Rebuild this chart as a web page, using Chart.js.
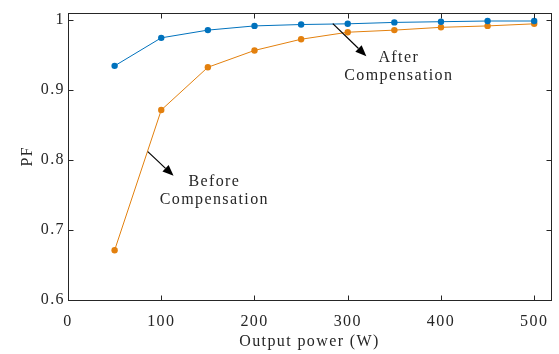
<!DOCTYPE html>
<html><head><meta charset="utf-8">
<script src="https://cdn.jsdelivr.net/npm/chart.js@4.4.1/dist/chart.umd.min.js"></script>
<style>html,body{margin:0;padding:0;background:#fff;}#wrap{width:559px;height:354px;}</style>
</head><body><div id="wrap"><canvas id="c" width="559" height="354"></canvas></div>
<script>
// ---- data ----
const outputPower = [50, 100, 150, 200, 250, 300, 350, 400, 450, 500];
const pfAfter  = [0.934, 0.974, 0.985, 0.991, 0.993, 0.994, 0.996, 0.997, 0.998, 0.998];
const pfBefore = [0.671, 0.871, 0.932, 0.956, 0.972, 0.982, 0.985, 0.989, 0.991, 0.994];
const xTicks = [0, 100, 200, 300, 400, 500];
const yTicks = [0.6, 0.7, 0.8, 0.9, 1];
const seriesNames = ['After Compensation', 'Before Compensation'];
const xTitle = 'Output power (W)';
const yTitle = 'PF';
const afterLabel = ['After', 'Compensation'];
const beforeLabel = ['Before', 'Compensation'];

const FONT = "'Liberation Serif', 'Times New Roman', serif";
const AX = '#262626';
const BLUE = '#0072BD';
const ORANGE = '#E3800E';

const axisPlugin = {
  id: 'matlabAxes',
  beforeDraw(chart) {
    chart.ctx.letterSpacing = '1.4px';
  },
  afterDraw(chart) {
    const ctx = chart.ctx, a = chart.chartArea;
    const xs = chart.scales.x, ys = chart.scales.y;
    ctx.save();
    ctx.strokeStyle = AX; ctx.lineWidth = 1;
    const L = Math.round(a.left) + 0.5, R = Math.round(a.right) + 0.5;
    const T = Math.round(a.top) + 0.5, B = Math.round(a.bottom) + 0.5;
    ctx.strokeRect(L, T, R - L, B - T);
    ctx.beginPath();
    xTicks.forEach(v => {
      const p = Math.round(xs.getPixelForValue(v)) + 0.5;
      ctx.moveTo(p, B); ctx.lineTo(p, B - 5);
      ctx.moveTo(p, T); ctx.lineTo(p, T + 5);
    });
    yTicks.forEach(v => {
      const p = Math.round(ys.getPixelForValue(v)) + 0.5;
      ctx.moveTo(L, p); ctx.lineTo(L + 5, p);
      ctx.moveTo(R, p); ctx.lineTo(R - 5, p);
    });
    ctx.stroke();

    const opts = chart.options.plugins.matlabAxes;
    opts.notes.forEach(n => {
      const x0 = xs.getPixelForValue(n.from[0]), y0 = ys.getPixelForValue(n.from[1]);
      const x1 = xs.getPixelForValue(n.to[0]), y1 = ys.getPixelForValue(n.to[1]);
      const ang = Math.atan2(y1 - y0, x1 - x0);
      const hl = 11, hw = 4.5;
      const bx = x1 - hl * Math.cos(ang), by = y1 - hl * Math.sin(ang);
      ctx.strokeStyle = '#000'; ctx.fillStyle = '#000'; ctx.lineWidth = 1.2;
      ctx.beginPath(); ctx.moveTo(x0, y0); ctx.lineTo(bx, by); ctx.stroke();
      ctx.beginPath();
      ctx.moveTo(x1, y1);
      ctx.lineTo(bx + hw * Math.sin(ang), by - hw * Math.cos(ang));
      ctx.lineTo(bx - hw * Math.sin(ang), by + hw * Math.cos(ang));
      ctx.closePath(); ctx.fill();
      ctx.font = '16px ' + FONT; ctx.fillStyle = AX;
      ctx.textAlign = 'center'; ctx.textBaseline = 'middle';
      const tx = xs.getPixelForValue(n.text[0]), ty = ys.getPixelForValue(n.text[1]);
      n.lines.forEach((s, i) => ctx.fillText(s, tx + 0.7, ty + i * 18));
    });
    ctx.restore();
  }
};

new Chart(document.getElementById('c'), {
  type: 'line',
  data: {
    datasets: [
      { label: seriesNames[0], data: outputPower.map((x, i) => ({x, y: pfAfter[i]})),
        borderColor: BLUE, backgroundColor: BLUE, borderWidth: 1, pointRadius: 3.2,
        pointBorderWidth: 0, tension: 0 },
      { label: seriesNames[1], data: outputPower.map((x, i) => ({x, y: pfBefore[i]})),
        borderColor: ORANGE, backgroundColor: ORANGE, borderWidth: 1, pointRadius: 3.2,
        pointBorderWidth: 0, tension: 0 }
    ]
  },
  options: {
    responsive: false, animation: false, devicePixelRatio: 1,
    layout: { padding: { top: 11, right: 8, left: 0, bottom: 0 } },
    plugins: {
      legend: { display: false }, tooltip: { enabled: false },
      matlabAxes: {
        notes: [
          { from: [284, 0.9943], to: [320, 0.9478], text: [354, 0.945], lines: afterLabel },
          { from: [85.6, 0.8117], to: [113.2, 0.7771], text: [156.2, 0.7686], lines: beforeLabel }
        ]
      }
    },
    scales: {
      x: {
        type: 'linear', min: 0, max: 518,
        afterBuildTicks: s => { s.ticks = xTicks.map(v => ({value: v})); },
        afterFit: s => { s.height = 54; },
        grid: { display: false, drawTicks: false }, border: { display: false },
        ticks: { color: AX, font: { family: FONT, size: 16 }, padding: 12, maxRotation: 0,
                 callback: v => String(v) },
        title: { display: true, text: xTitle, color: AX, font: { family: FONT, size: 16 },
                 padding: { top: 0, bottom: 3 } }
      },
      y: {
        type: 'linear', min: 0.6, max: 1.01,
        afterBuildTicks: s => { s.ticks = yTicks.map(v => ({value: v})); },
        afterFit: s => { s.width = 68; },
        grid: { display: false, drawTicks: false }, border: { display: false },
        ticks: { color: AX, font: { family: FONT, size: 16 }, padding: 3,
                 callback: v => (Math.abs(v - 1) < 1e-9 ? '1' : v.toFixed(1)) },
        title: { display: true, text: yTitle, color: AX, font: { family: FONT, size: 16 },
                 padding: { top: 18, bottom: 0 } }
      }
    }
  },
  plugins: [axisPlugin]
});
</script></body></html>
